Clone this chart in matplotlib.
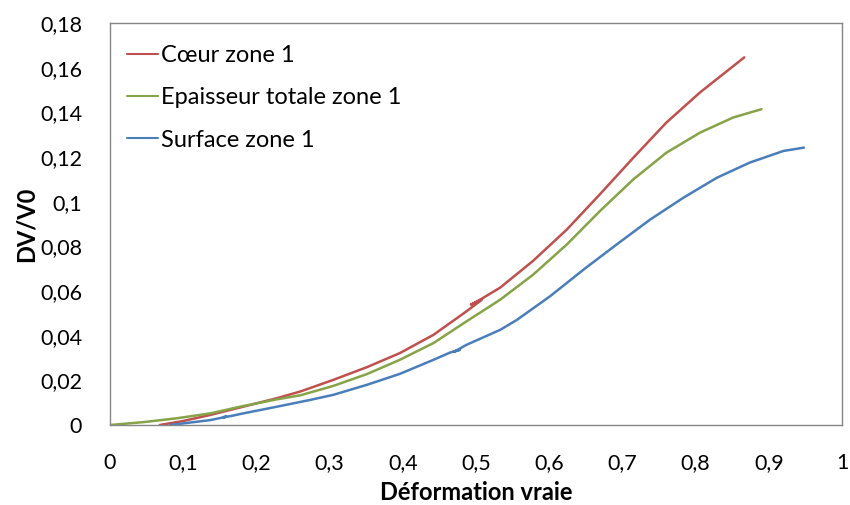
import matplotlib
matplotlib.use("Agg")
import matplotlib.pyplot as plt

plt.rcParams['font.family'] = ['Lato', 'DejaVu Sans']

coeur_x = [0.068, 0.10, 0.137, 0.182, 0.228, 0.26, 0.305, 0.351, 0.396, 0.442, 0.487, 0.508, 0.493, 0.505,
           0.533, 0.578, 0.624, 0.669, 0.715, 0.760, 0.806, 0.8665]
coeur_y = [0.0, 0.0018, 0.0045, 0.0082, 0.012, 0.0150, 0.0202, 0.0259, 0.0322, 0.0404, 0.0509, 0.0561, 0.0539, 0.0560,
           0.0615, 0.0735, 0.0875, 0.1032, 0.1197, 0.1354, 0.1489, 0.1646]

epais_x = [0.0, 0.046, 0.091, 0.137, 0.182, 0.228, 0.26, 0.305, 0.351, 0.396, 0.442, 0.487, 0.533,
           0.578, 0.624, 0.669, 0.715, 0.760, 0.806, 0.8515, 0.890]
epais_y = [0.0, 0.0013, 0.003, 0.0052, 0.0085, 0.0115, 0.0133, 0.0175, 0.0228, 0.0292, 0.0367, 0.0464, 0.0561,
           0.0673, 0.0808, 0.0957, 0.110, 0.1219, 0.1309, 0.1377, 0.1414]

surf_x = [0.082, 0.137, 0.159, 0.155, 0.165, 0.182, 0.228, 0.273, 0.305, 0.351, 0.396, 0.442, 0.465, 0.478, 0.470,
          0.487, 0.533, 0.556, 0.601, 0.647, 0.692, 0.738, 0.783, 0.829, 0.874, 0.920, 0.948]
surf_y = [0.0, 0.0022, 0.0037, 0.0035, 0.0040, 0.0052, 0.0082, 0.0112, 0.0135, 0.0180, 0.0229, 0.0292, 0.0325, 0.0337, 0.0328,
          0.0359, 0.0426, 0.0471, 0.0576, 0.0696, 0.0808, 0.092, 0.1017, 0.1107, 0.1175, 0.1227, 0.1242]

labels = ["Cœur zone 1", "Epaisseur totale zone 1", "Surface zone 1"]
colors = ["#C0504D", "#86A347", "#4A7EBB"]

xticks = [0, 0.1, 0.2, 0.3, 0.4, 0.5, 0.6, 0.7, 0.8, 0.9, 1]
xticklabels = ["0", "0,1", "0,2", "0,3", "0,4", "0,5", "0,6", "0,7", "0,8", "0,9", "1"]
yticks = [0, 0.02, 0.04, 0.06, 0.08, 0.10, 0.12, 0.14, 0.16, 0.18]
yticklabels = ["0", "0,02", "0,04", "0,06", "0,08", "0,1", "0,12", "0,14", "0,16", "0,18"]

fig = plt.figure(figsize=(8.5, 5.05), dpi=100)
ax = fig.add_axes([0.1294, 0.1584, 0.8612, 0.7961])

for xs, ys, lab, c in zip([coeur_x, epais_x, surf_x], [coeur_y, epais_y, surf_y], labels, colors):
    ax.plot(xs, ys, color=c, lw=1.8, label=lab, solid_joinstyle='round', solid_capstyle='round')

ax.set_xlim(0, 1)
ax.set_ylim(0, 0.18)
ax.set_xticks(xticks)
ax.set_xticklabels(xticklabels)
ax.set_yticks(yticks)
ax.set_yticklabels(yticklabels)
ax.tick_params(axis='both', length=0, labelsize=15.5)
ax.tick_params(axis='x', pad=20)
ax.tick_params(axis='y', pad=20)
for s in ax.spines.values():
    s.set_color("#868686")
    s.set_linewidth(1.0)

ax.set_xlabel("Déformation vraie", fontsize=17, fontweight='bold', labelpad=6)
ax.set_ylabel("DV/V0", fontsize=17, fontweight='bold', labelpad=2)

leg = ax.legend(loc='upper left', bbox_to_anchor=(0.023, 0.945), frameon=False, fontsize=17,
                handlelength=1.3, handletextpad=0.15, labelspacing=0.9, borderaxespad=0.0, borderpad=0.0)
for h in leg.get_lines():
    h.set_linewidth(1.5)

fig.savefig("out.png", dpi=100)
